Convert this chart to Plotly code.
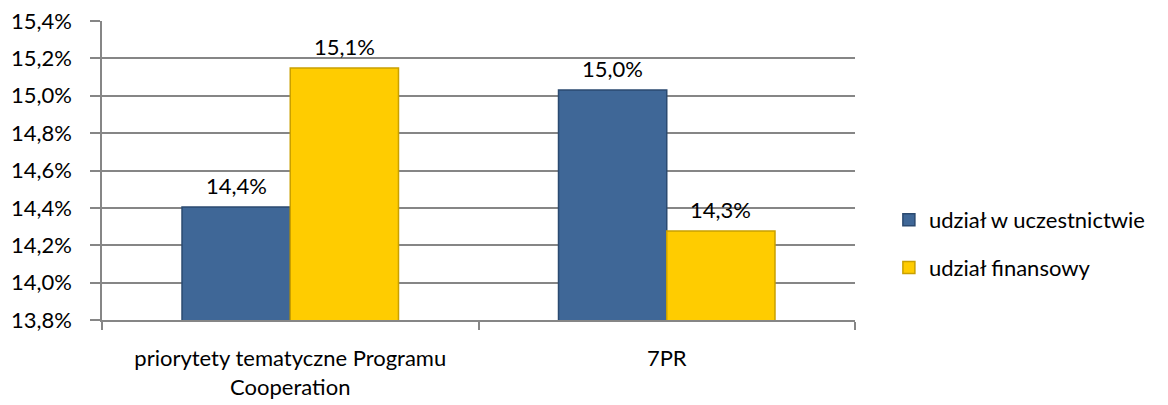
import plotly.graph_objects as go

# Categories and series (shares as fractions)
categories = ["priorytety tematyczne Programu<br>Cooperation", "7PR"]
series_names = ["udział w uczestnictwie", "udział finansowy"]
udzial_uczestnictwo = [0.14405, 0.15031]
udzial_finansowy = [0.15148, 0.14276]
y_ticks = [0.138, 0.140, 0.142, 0.144, 0.146, 0.148, 0.150, 0.152, 0.154]

FONT = "Lato, 'Open Sans', sans-serif"
FS = 22
blue_fill, blue_edge = "#3F6797", "#2B4A70"
gold_fill, gold_edge = "#FFCC00", "#C9A000"

series = [
    (series_names[0], udzial_uczestnictwo, blue_fill, blue_edge, -54),
    (series_names[1], udzial_finansowy, gold_fill, gold_edge, 54),
]

fig = go.Figure()
for name, vals, fill, edge, _ in series:
    fig.add_trace(go.Bar(
        x=categories, y=vals, name=name, legendgroup=name,
        marker=dict(color=fill, line=dict(color=edge, width=1.5)),
    ))

# value labels above each bar, taken from the same values as the bars
for name, vals, fill, edge, dx in series:
    for cat, v in zip(categories, vals):
        fig.add_annotation(
            x=cat, y=v, xref="x", yref="y", xshift=dx, yshift=6,
            yanchor="bottom", showarrow=False,
            text=f"{v * 100:.1f}%".replace(".", ","),
            font=dict(family=FONT, size=FS, color="#000000"),
        )

fig.update_layout(
    width=1168, height=405,
    margin=dict(l=102, r=313, t=21, b=85, autoexpand=False),
    paper_bgcolor="white", plot_bgcolor="white",
    separators=", ",
    barmode="group", bargap=0.425, bargroupgap=0,
    font=dict(family=FONT, size=FS, color="#000000"),
    showlegend=True,
    legend=dict(x=1.045, y=0.254, xanchor="left", yanchor="middle",
                traceorder="grouped", tracegroupgap=16,
                font=dict(family=FONT, size=FS)),
    xaxis=dict(
        type="category", tickson="boundaries", ticks="outside",
        ticklen=8, tickcolor="#868686", tickwidth=1.5,
        showline=True, linecolor="#868686", linewidth=1.5,
        showgrid=False, tickfont=dict(family=FONT, size=FS),
        ticklabelstandoff=18, automargin=False,
    ),
    yaxis=dict(
        range=[0.138, 0.154], tickvals=y_ticks, tickformat=".1%",
        showgrid=True, gridcolor="#868686", gridwidth=1.5,
        showline=True, linecolor="#868686", linewidth=1.5,
        ticks="outside", ticklen=10, tickcolor="#868686", tickwidth=1.5,
        zeroline=False, tickfont=dict(family=FONT, size=FS),
        ticklabelstandoff=14, automargin=False,
    ),
)

fig.write_html("out.html")
